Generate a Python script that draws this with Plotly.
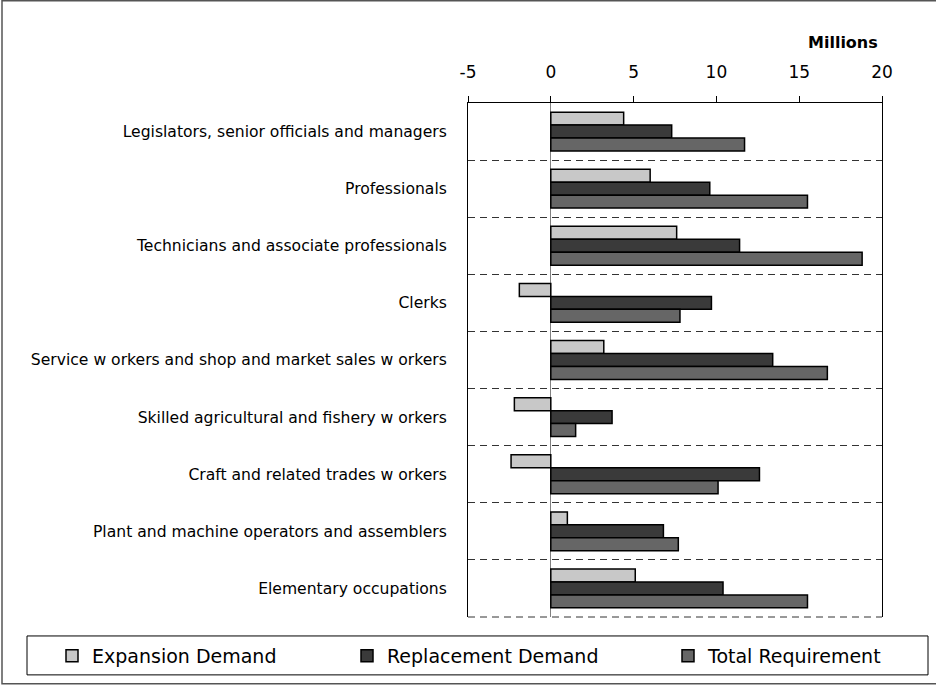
import plotly.graph_objects as go

categories = [
    "Legislators, senior officials and managers",
    "Professionals",
    "Technicians and associate professionals",
    "Clerks",
    "Service w orkers and shop and market sales w orkers",
    "Skilled agricultural and fishery w orkers",
    "Craft and related trades w orkers",
    "Plant and machine operators and assemblers",
    "Elementary occupations",
]
expansion = [4.4, 6.0, 7.6, -1.9, 3.2, -2.2, -2.4, 1.0, 5.1]
replacement = [7.3, 9.6, 11.4, 9.7, 13.4, 3.7, 12.6, 6.8, 10.4]
total = [11.7, 15.5, 18.8, 7.8, 16.7, 1.5, 10.1, 7.7, 15.5]
x_ticks = [-5, 0, 5, 10, 15, 20]
x_tick_labels = ["-5", "0", "5", "10", "15", "20"]

series = [
    ("Expansion Demand", expansion, "#C8C8C8", "legend"),
    ("Replacement Demand", replacement, "#3A3A3A", "legend2"),
    ("Total Requirement", total, "#666666", "legend3"),
]

pos = list(range(len(categories)))
FONT = "DejaVu Sans"

fig = go.Figure()
for name, vals, col, lg in series:
    fig.add_trace(go.Bar(
        y=pos, x=vals, name=name, orientation="h", legend=lg,
        marker=dict(color=col, line=dict(color="black", width=1.5)),
    ))

W, H = 936, 686
L, R, T, B = 468, 882, 103, 618
pw, ph = R - L, B - T

def px(x):
    return (x - L) / pw

def py(y):
    return (B - y) / ph

def legend_at(xpix):
    return dict(
        orientation="h", x=px(xpix), xanchor="left", y=py(656), yanchor="middle",
        font=dict(family=FONT, size=19, color="black"),
        itemwidth=30, bgcolor="rgba(0,0,0,0)", borderwidth=0,
    )

fig.update_layout(
    width=W, height=H,
    margin=dict(l=L, r=W - R, t=T, b=H - B),
    paper_bgcolor="white", plot_bgcolor="white",
    barmode="group", bargap=0.32, bargroupgap=0,
    font=dict(family=FONT, size=15, color="black"),
    showlegend=True,
    legend=legend_at(52),
    legend2=legend_at(347),
    legend3=legend_at(668),
    xaxis=dict(
        side="top", range=[-5, 20], tickvals=x_ticks, ticktext=x_tick_labels,
        ticks="outside", ticklen=6, tickcolor="black", tickwidth=1,
        showline=True, linecolor="black", linewidth=1, mirror=False,
        showgrid=False, zeroline=True, zerolinecolor="#808080", zerolinewidth=1,
        tickfont=dict(family=FONT, size=17), ticklabelstandoff=11,
    ),
    yaxis=dict(
        range=[8.5, -0.5], tickvals=pos, ticktext=categories,
        ticks="", showgrid=False, zeroline=False,
        showline=True, linecolor="black", linewidth=1, mirror=True,
        tickfont=dict(family=FONT, size=15.6), ticklabelstandoff=17,
        minor=dict(tick0=0.5, dtick=1, showgrid=True, gridcolor="#333333",
                   griddash="7px,5px", gridwidth=1, ticks=""),
    ),
    annotations=[dict(
        text="<b>Millions</b>", xref="paper", yref="paper",
        x=px(843), y=py(42), xanchor="center", yanchor="middle",
        showarrow=False, font=dict(family=FONT, size=16, color="black"),
    )],
    shapes=[
        dict(type="line", xref="paper", yref="paper",
             x0=0, x1=1, y0=0, y1=0,
             line=dict(color="#333333", width=1, dash="7px,5px")),
        dict(type="rect", xref="paper", yref="paper",
             x0=px(27), x1=px(928), y0=py(637), y1=py(676),
             line=dict(color="black", width=1), fillcolor="rgba(0,0,0,0)", layer="below"),
        dict(type="rect", xref="paper", yref="paper",
             x0=px(2), x1=px(945), y0=py(0.5), y1=py(685),
             line=dict(color="#555555", width=1.5), fillcolor="rgba(0,0,0,0)", layer="below"),
    ],
)

fig.write_html("out.html", config={"displayModeBar": False},
               post_script="document.body.style.margin='0';")
